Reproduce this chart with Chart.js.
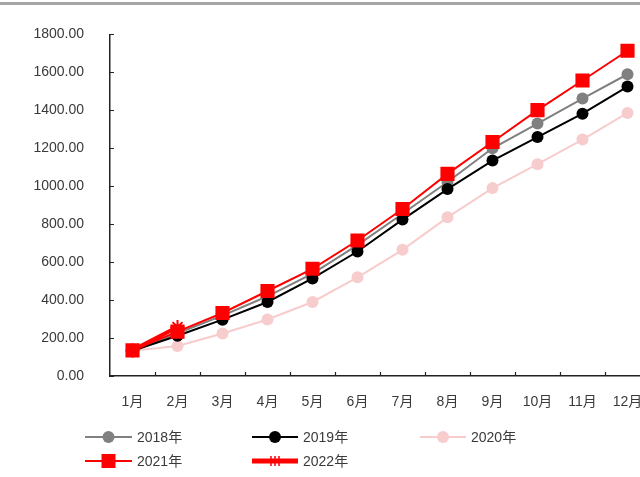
<!DOCTYPE html>
<html>
<head>
<meta charset="utf-8">
<script src="https://cdn.jsdelivr.net/npm/chart.js@4/dist/chart.umd.min.js"></script>
<style>
  html, body { margin: 0; padding: 0; background: #ffffff; }
  #wrap { position: relative; width: 640px; height: 477px; overflow: hidden; background: #ffffff; }
  #topRule { position: absolute; left: 0; top: 2px; width: 640px; height: 3px; background: #a6a6a6; }
  #c { position: absolute; left: 0; top: 0; }
</style>
</head>
<body>
<div id="wrap">
  <div id="topRule"></div>
  <canvas id="c" width="670" height="477"></canvas>
</div>
<script>
// Cumulative monthly values, one array per year
const months = ['1月', '2月', '3月', '4月', '5月', '6月', '7月', '8月', '9月', '10月', '11月', '12月'];
const y2018 = [133, 225, 318, 420, 540, 690, 855, 1022, 1200, 1330, 1462, 1590];
const y2019 = [133, 212, 297, 390, 514, 656, 824, 985, 1135, 1259, 1382, 1525];
const y2020 = [133, 158, 224, 298, 390, 520, 665, 836, 990, 1116, 1246, 1386];
const y2021 = [135, 234, 332, 448, 565, 714, 880, 1065, 1233, 1401, 1557, 1714];
const y2022 = [135, 258];

const seriesNames = ['2018年', '2019年', '2020年', '2021年', '2022年'];
const yTicks = [0, 200, 400, 600, 800, 1000, 1200, 1400, 1600, 1800];

const FONT = "'Liberation Sans', 'Noto Sans CJK SC', sans-serif";
const TEXT = '#3a3a3a';

const GRAY = '#808080';
const BLACK = '#000000';
const PINK = '#f7cccd';
const RED = '#ff0000';

// Inward tick marks on both axes
const innerTicks = {
  id: 'innerTicks',
  beforeDatasetsDraw(chart) {
    const ctx = chart.ctx;
    const xs = chart.scales.x, ys = chart.scales.y;
    const area = chart.chartArea;
    ctx.save();
    ctx.strokeStyle = '#222';
    ctx.lineWidth = 1.2;
    ctx.beginPath();
    ys.ticks.forEach((t, i) => {
      const py = Math.round(ys.getPixelForTick(i)) + 0.5;
      ctx.moveTo(area.left, py);
      ctx.lineTo(area.left + 4, py);
    });
    const half = (xs.getPixelForValue(1) - xs.getPixelForValue(0)) / 2;
    for (let i = 0; i < months.length; i++) {
      const px = Math.round(xs.getPixelForValue(i) + half) + 0.5;
      ctx.moveTo(px, area.bottom);
      ctx.lineTo(px, area.bottom - 4);
    }
    ctx.stroke();
    ctx.restore();
  }
};

function drawMarker(ctx, kind, x, y, color) {
  ctx.save();
  ctx.fillStyle = color;
  ctx.strokeStyle = color;
  if (kind === 'circle') {
    ctx.beginPath();
    ctx.arc(x, y, 6, 0, Math.PI * 2);
    ctx.fill();
  } else if (kind === 'rect') {
    ctx.fillRect(x - 7, y - 7, 14, 14);
  } else if (kind === 'bars') {
    ctx.lineWidth = 1.5;
    ctx.beginPath();
    [-4, 0, 4].forEach(d => { ctx.moveTo(x + d, y - 5); ctx.lineTo(x + d, y + 5); });
    ctx.stroke();
  }
  ctx.restore();
}

// Two-row legend under the plot
const legendRows = {
  id: 'legendRows',
  afterDraw(chart) {
    const ctx = chart.ctx;
    const items = [
      { ds: 0, x0: 85, x1: 132, y: 437, lw: 2, marker: 'circle' },
      { ds: 1, x0: 252, x1: 298, y: 437, lw: 2, marker: 'circle' },
      { ds: 2, x0: 420, x1: 466, y: 437, lw: 2, marker: 'circle' },
      { ds: 3, x0: 85, x1: 132, y: 461, lw: 2, marker: 'rect' },
      { ds: 4, x0: 252, x1: 298, y: 461, lw: 5, marker: 'bars' }
    ];
    ctx.save();
    items.forEach(it => {
      const ds = chart.data.datasets[it.ds];
      ctx.strokeStyle = ds.borderColor;
      ctx.lineWidth = it.lw;
      ctx.beginPath();
      ctx.moveTo(it.x0, it.y);
      ctx.lineTo(it.x1, it.y);
      ctx.stroke();
      drawMarker(ctx, it.marker, (it.x0 + it.x1) / 2, it.y, ds.borderColor);
      ctx.fillStyle = TEXT;
      ctx.font = '14px ' + FONT;
      ctx.textBaseline = 'middle';
      ctx.textAlign = 'left';
      ctx.fillText(ds.label, it.x1 + 5, it.y + 1);
    });
    ctx.restore();
  }
};

new Chart(document.getElementById('c'), {
  type: 'line',
  data: {
    labels: months,
    datasets: [
      { label: seriesNames[0], data: y2018, borderColor: GRAY, backgroundColor: GRAY,
        borderWidth: 2, pointStyle: 'circle', pointRadius: 6, pointBorderWidth: 0, order: 3 },
      { label: seriesNames[1], data: y2019, borderColor: BLACK, backgroundColor: BLACK,
        borderWidth: 2, pointStyle: 'circle', pointRadius: 6, pointBorderWidth: 0, order: 2 },
      { label: seriesNames[2], data: y2020, borderColor: PINK, backgroundColor: PINK,
        borderWidth: 2, pointStyle: 'circle', pointRadius: 6, pointBorderWidth: 0, order: 4 },
      { label: seriesNames[3], data: y2021, borderColor: RED, backgroundColor: RED,
        borderWidth: 2, pointStyle: 'rect', pointRadius: 10, pointBorderWidth: 0, order: 0 },
      { label: seriesNames[4], data: y2022, borderColor: RED, backgroundColor: RED,
        borderWidth: 4, pointStyle: 'star', pointRadius: 7, pointBorderWidth: 2, order: 1 }
    ]
  },
  options: {
    responsive: false,
    animation: false,
    devicePixelRatio: 1,
    layout: { padding: { left: 0, top: 33, right: 20, bottom: 0 } },
    plugins: { legend: { display: false }, tooltip: { enabled: false } },
    elements: { line: { tension: 0 } },
    scales: {
      x: {
        offset: true,
        grid: { display: false, drawTicks: false },
        border: { display: true, color: '#222', width: 1.5 },
        ticks: { color: TEXT, font: { family: FONT, size: 14 }, padding: 18, maxRotation: 0, autoSkip: false },
        afterFit(scale) { scale.height = 101; }
      },
      y: {
        min: 0,
        max: 1800,
        afterBuildTicks(scale) { scale.ticks = yTicks.map(v => ({ value: v })); },
        grid: { display: false, drawTicks: false },
        border: { display: true, color: '#222', width: 1.5 },
        ticks: { color: TEXT, font: { family: FONT, size: 14 }, padding: 26,
                 callback: v => Number(v).toFixed(2) },
        afterFit(scale) { scale.width = 110; }
      }
    }
  },
  plugins: [innerTicks, legendRows]
});
</script>
</body>
</html>
